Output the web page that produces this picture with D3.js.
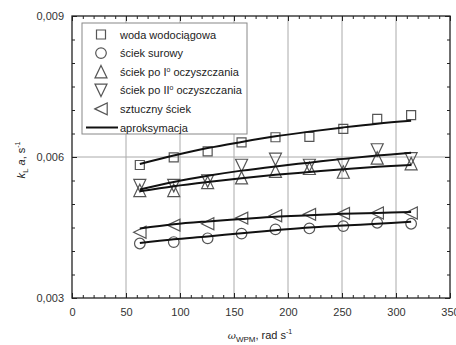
<!DOCTYPE html>
<html>
<head>
<meta charset="utf-8">
<script src="https://cdn.jsdelivr.net/npm/d3@7"></script>
<style>
  body { margin: 0; background: #fff; }
  svg { font-family: "Liberation Sans", Arial, sans-serif; }
</style>
</head>
<body>
<svg id="chart" width="456" height="345"></svg>
<script>
// rotational speed, rad/s
const omega = [62.8, 94.2, 125.6, 157, 188.4, 219.8, 251.2, 282.6, 314];

// measured kLa, 1/s
const woda   = [0.00583, 0.00599, 0.00612, 0.00631, 0.00642, 0.00643, 0.00660, 0.00681, 0.00689];
const surowy = [0.00416, 0.00419, 0.00427, 0.00437, 0.00446, 0.00448, 0.00453, 0.00460, 0.00458];
const poI    = [0.00529, 0.00529, 0.00546, 0.00556, 0.00570, 0.00576, 0.00568, 0.00598, 0.00586];
const poII   = [0.00539, 0.00539, 0.00549, 0.00582, 0.00595, 0.00582, 0.00583, 0.00615, 0.00596];
const sztuczny = [0.00440, 0.00455, 0.00458, 0.00470, 0.00475, 0.00478, 0.00480, 0.00481, 0.00481];

// approximation curves
const fitWoda   = [0.00585, 0.00603, 0.00619, 0.00632, 0.00644, 0.00654, 0.00663, 0.00671, 0.00677];
const fitSurowy = [0.00417, 0.00425, 0.00431, 0.00438, 0.00444, 0.00450, 0.00454, 0.00458, 0.00462];
const fitPoI    = [0.00527, 0.00538, 0.00547, 0.00555, 0.00562, 0.00568, 0.00574, 0.00579, 0.00583];
const fitPoII   = [0.00531, 0.00547, 0.00560, 0.00571, 0.00580, 0.00588, 0.00596, 0.00603, 0.00609];
const fitSztuczny = [0.00448, 0.00457, 0.00463, 0.00468, 0.00473, 0.00476, 0.00479, 0.00481, 0.00483];

const legendLabels = ['woda wodociągowa', 'ściek surowy', 'ściek po I', 'ściek po II', 'sztuczny ściek', 'aproksymacja'];
const xTicks = [0, 50, 100, 150, 200, 250, 300, 350];
const yTicks = [0.003, 0.006, 0.009];

const width = 456;
const height = 345;
const margin = { top: 16, right: 6, bottom: 47, left: 72 };

const svg = d3.select('#chart');

const x = d3.scaleLinear().domain([0, 350]).range([margin.left, width - margin.right]);
const y = d3.scaleLinear().domain([0.003, 0.009]).range([height - margin.bottom, margin.top]);

const fmt = d => d3.format('.3f')(d).replace('.', ',');

// grid
svg.append('g')
    .selectAll('line')
    .data(xTicks.slice(1, -1))
    .enter()
    .append('line')
    .attr('x1', d => x(d)).attr('x2', d => x(d))
    .attr('y1', y(0.003)).attr('y2', y(0.009))
    .attr('stroke', '#aaa').attr('stroke-width', 1);

svg.append('line')
    .attr('x1', x(0)).attr('x2', x(350))
    .attr('y1', y(0.006)).attr('y2', y(0.006))
    .attr('stroke', '#aaa').attr('stroke-width', 1);

// axes (ticks inward on all four sides)
const xMinor = d3.range(0, 351, 10);
const yMinor = d3.range(0.003, 0.00901, 0.0005);

const drawXAxis = (yPos, dir, labels) => {
    const g = svg.append('g').attr('transform', `translate(0,${yPos})`);
    const ax = (dir > 0 ? d3.axisBottom(x) : d3.axisTop(x));
    g.call(ax.tickValues(xMinor).tickSize(-3).tickFormat(''));
    const g2 = svg.append('g').attr('transform', `translate(0,${yPos})`);
    const ax2 = (dir > 0 ? d3.axisBottom(x) : d3.axisTop(x));
    g2.call(ax2.tickValues(xTicks).tickSize(-5).tickPadding(10).tickFormat(labels ? d3.format('d') : ''));
    [g, g2].forEach(s => {
        s.select('.domain').remove();
        s.selectAll('line').attr('stroke', '#222');
    });
    g2.selectAll('text').attr('font-size', 11).attr('fill', '#333');
};

const drawYAxis = (xPos, dir, labels) => {
    const g = svg.append('g').attr('transform', `translate(${xPos},0)`);
    const ax = (dir < 0 ? d3.axisLeft(y) : d3.axisRight(y));
    g.call(ax.tickValues(yMinor).tickSize(-3).tickFormat(''));
    const g2 = svg.append('g').attr('transform', `translate(${xPos},0)`);
    const ax2 = (dir < 0 ? d3.axisLeft(y) : d3.axisRight(y));
    g2.call(ax2.tickValues(yTicks).tickSize(-5).tickPadding(8).tickFormat(labels ? fmt : ''));
    [g, g2].forEach(s => {
        s.select('.domain').remove();
        s.selectAll('line').attr('stroke', '#222');
    });
    g2.selectAll('text').attr('font-size', 11).attr('fill', '#333');
};

drawXAxis(y(0.003), 1, true);
drawXAxis(y(0.009), -1, false);
drawYAxis(x(0), -1, true);
drawYAxis(x(350), 1, false);

// frame
svg.append('rect')
    .attr('x', x(0)).attr('y', y(0.009))
    .attr('width', x(350) - x(0)).attr('height', y(0.003) - y(0.009))
    .attr('fill', 'none').attr('stroke', '#222').attr('stroke-width', 1.3);

// marker shapes
const marker = {
    square: () => 'M-4.5,-4.5H4.5V4.5H-4.5Z',
    circle: () => 'M5.3,0A5.3,5.3 0 1,1 -5.3,0A5.3,5.3 0 1,1 5.3,0Z',
    up: () => 'M0,-6.2L6,6.2L-6,6.2Z',
    down: () => 'M0,6.2L6,-6.2L-6,-6.2Z',
    left: () => 'M-6.2,0L6.2,-6L6.2,6Z'
};

const series = [
    { data: woda, fit: fitWoda, shape: 'square' },
    { data: surowy, fit: fitSurowy, shape: 'circle' },
    { data: poI, fit: fitPoI, shape: 'up' },
    { data: poII, fit: fitPoII, shape: 'down' },
    { data: sztuczny, fit: fitSztuczny, shape: 'left' }
];

const line = d3.line()
    .x(d => x(d[0]))
    .y(d => y(d[1]))
    .curve(d3.curveCatmullRom);

series.forEach(s => {
    svg.append('g')
        .selectAll('path')
        .data(s.data.map((v, i) => [omega[i], v]))
        .enter()
        .append('path')
        .attr('d', marker[s.shape])
        .attr('transform', d => `translate(${x(d[0])},${y(d[1])})`)
        .attr('fill', 'none')
        .attr('stroke', '#555')
        .attr('stroke-width', 1.2);
});

series.forEach(s => {
    svg.append('path')
        .datum(s.fit.map((v, i) => [omega[i], v]))
        .attr('d', line)
        .attr('fill', 'none')
        .attr('stroke', '#111')
        .attr('stroke-width', 2);
});

// legend
const lg = svg.append('g');
lg.append('rect')
    .attr('x', 82).attr('y', 23)
    .attr('width', 165).attr('height', 111)
    .attr('fill', '#fff').attr('stroke', '#888').attr('stroke-width', 1);

const rowY = i => 34.5 + i * 18.6;
const shapes = ['square', 'circle', 'up', 'down', 'left'];

shapes.forEach((sh, i) => {
    lg.append('path')
        .attr('d', marker[sh])
        .attr('transform', `translate(101,${rowY(i)})`)
        .attr('fill', 'none').attr('stroke', '#555').attr('stroke-width', 1.2);
});
lg.append('line')
    .attr('x1', 86).attr('x2', 118)
    .attr('y1', rowY(5)).attr('y2', rowY(5))
    .attr('stroke', '#111').attr('stroke-width', 2);

legendLabels.forEach((t, i) => {
    const txt = lg.append('text')
        .attr('x', 120).attr('y', rowY(i) + 4)
        .attr('font-size', 11).attr('fill', '#222')
        .text(t);
    if (i === 2 || i === 3) {
        txt.append('tspan').attr('dy', -4).attr('font-size', 7).text('o');
        txt.append('tspan').attr('dy', 4).text(' oczyszczania');
    }
});

// axis titles
const xt = svg.append('text')
    .attr('x', 260).attr('y', 339)
    .attr('text-anchor', 'middle')
    .attr('font-size', 11).attr('fill', '#222');
xt.append('tspan').attr('font-style', 'italic').attr('font-family', 'DejaVu Serif, serif').attr('font-size', 10).text('ω');
xt.append('tspan').attr('dy', 3).attr('font-size', 8).text('WPM');
xt.append('tspan').attr('dy', -3).text(', rad s');
xt.append('tspan').attr('dy', -5).attr('font-size', 7).text('-1');

const yt = svg.append('text')
    .attr('transform', 'translate(25,160) rotate(-90)')
    .attr('text-anchor', 'middle')
    .attr('font-size', 11).attr('fill', '#222');
yt.append('tspan').attr('font-style', 'italic').text('k');
yt.append('tspan').attr('dy', 3).attr('font-size', 8).text('L');
yt.append('tspan').attr('dy', -3).attr('font-style', 'italic').text(' a');
yt.append('tspan').text(', s');
yt.append('tspan').attr('dy', -5).attr('font-size', 7).text('-1');
</script>
</body>
</html>
